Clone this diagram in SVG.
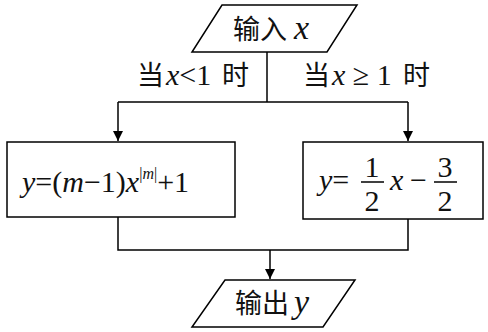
<svg xmlns="http://www.w3.org/2000/svg" width="488" height="332" viewBox="0 0 488 332">
<defs>
<marker id="arr" viewBox="0 0 10 10" refX="10" refY="5" markerWidth="10" markerHeight="10" markerUnits="userSpaceOnUse" orient="auto">
<path d="M0,0 L10,5 L0,10 Z" fill="#000"/>
</marker>
<style>
.shape{fill:#fff;stroke:#000;stroke-width:1.5}
.line{fill:none;stroke:#000;stroke-width:1.5}
.cjk{font-size:27px;fill:#111}
.m{font-size:30px;fill:#111}
.i{font-style:italic}
</style>
</defs>
<rect width="488" height="332" fill="#fff"/>
<g id="connectors">
<path class="line" d="M267,52 V102"/>
<path class="line" d="M118,102 H408"/>
<path class="line" d="M118,102 V141" marker-end="url(#arr)"/>
<path class="line" d="M408,102 V141" marker-end="url(#arr)"/>
<path class="line" d="M118,217 V250 H408 V219"/>
<path class="line" d="M270,250 V279" marker-end="url(#arr)"/>
</g>
<g id="input">
<polygon class="shape" points="222,5 357,5 327,52 192,52"/>
<text x="233" y="39" class="cjk" style="font-family:'Noto Sans CJK SC',sans-serif">输入</text>
<text x="294" y="39" class="m i" style="font-family:'Liberation Serif',serif;font-size:34px">x</text>
</g>
<g id="label-left">
<text x="137" y="85" class="cjk" style="font-family:'Noto Sans CJK SC',sans-serif">当</text>
<text x="166" y="85" class="m" style="font-family:'Liberation Serif',serif"><tspan class="i">x</tspan>&lt;1</text>
<text x="222" y="85" class="cjk" style="font-family:'Noto Sans CJK SC',sans-serif">时</text>
</g>
<g id="label-right">
<text x="303" y="85" class="cjk" style="font-family:'Noto Sans CJK SC',sans-serif">当</text>
<text x="332" y="85" class="m" style="font-family:'Liberation Serif',serif"><tspan class="i">x</tspan> ≥ 1</text>
<text x="403" y="85" class="cjk" style="font-family:'Noto Sans CJK SC',sans-serif">时</text>
</g>
<g id="box-left">
<rect class="shape" x="7" y="142" width="228" height="75"/>
<text x="22" y="192" class="m" style="font-family:'Liberation Serif',serif"><tspan class="i">y</tspan>=(<tspan class="i">m</tspan>−1)<tspan class="i">x</tspan><tspan font-size="16" dy="-13">|<tspan class="i">m</tspan>|</tspan><tspan dy="13">+1</tspan></text>
</g>
<g id="box-right">
<rect class="shape" x="303" y="142" width="180" height="77"/>
<text x="319" y="190" class="m" style="font-family:'Liberation Serif',serif"><tspan class="i">y</tspan>=</text>
<text x="372" y="177" class="m" text-anchor="middle" style="font-family:'Liberation Serif',serif">1</text>
<path class="line" d="M361,182 H384"/>
<text x="372" y="211" class="m" text-anchor="middle" style="font-family:'Liberation Serif',serif">2</text>
<text x="390" y="190" class="m i" style="font-family:'Liberation Serif',serif">x</text>
<text x="410" y="190" class="m" style="font-family:'Liberation Serif',serif">−</text>
<text x="445" y="177" class="m" text-anchor="middle" style="font-family:'Liberation Serif',serif">3</text>
<path class="line" d="M434,182 H457"/>
<text x="445" y="211" class="m" text-anchor="middle" style="font-family:'Liberation Serif',serif">2</text>
</g>
<g id="output">
<polygon class="shape" points="225,280 355,280 323,327 192,327"/>
<text x="235" y="313" class="cjk" style="font-family:'Noto Sans CJK SC',sans-serif">输出</text>
<text x="294" y="313" class="m i" style="font-family:'Liberation Serif',serif;font-size:34px">y</text>
</g>
</svg>
